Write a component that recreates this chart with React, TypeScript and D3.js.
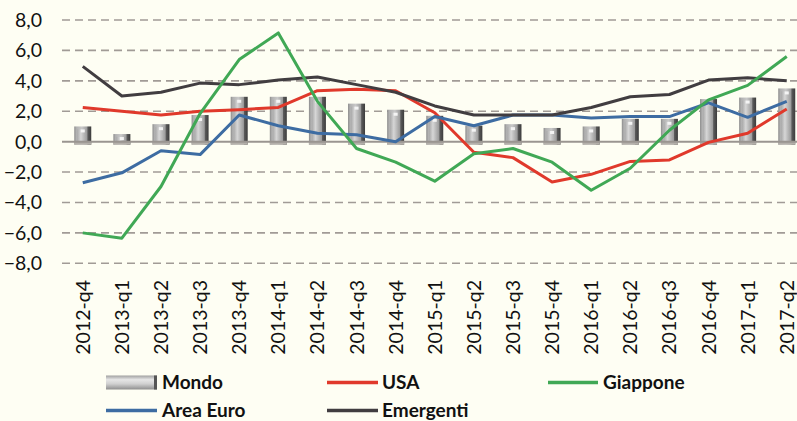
import React from "react";
import * as d3 from "d3";

const categories = [
  "2012-q4", "2013-q1", "2013-q2", "2013-q3", "2013-q4", "2014-q1", "2014-q2", "2014-q3", "2014-q4",
  "2015-q1", "2015-q2", "2015-q3", "2015-q4", "2016-q1", "2016-q2", "2016-q3", "2016-q4", "2017-q1", "2017-q2",
];
const mondo = [1.0, 0.5, 1.15, 1.75, 2.95, 2.95, 2.95, 2.5, 2.1, 1.7, 1.05, 1.15, 0.9, 1.0, 1.5, 1.5, 2.8, 2.9, 3.5];
const usa = [2.25, 2.0, 1.75, 2.0, 2.1, 2.25, 3.35, 3.45, 3.35, 1.9, -0.7, -1.05, -2.65, -2.15, -1.3, -1.2, -0.05, 0.55, 2.15];
const giappone = [-6.0, -6.35, -2.95, 1.85, 5.4, 7.15, 2.65, -0.45, -1.35, -2.6, -0.8, -0.45, -1.35, -3.2, -1.75, 0.75, 2.75, 3.7, 5.6];
const areaEuro = [-2.7, -2.05, -0.6, -0.85, 1.75, 1.05, 0.55, 0.45, 0.0, 1.65, 1.05, 1.75, 1.75, 1.55, 1.65, 1.65, 2.55, 1.6, 2.65];
const emergenti = [4.95, 3.0, 3.25, 3.85, 3.75, 4.05, 4.25, 3.75, 3.25, 2.35, 1.75, 1.75, 1.75, 2.25, 2.95, 3.1, 4.05, 4.2, 4.0];
const yTicks = [8, 6, 4, 2, 0, -2, -4, -6, -8];

const lineSeries = [
  { name: "USA", values: usa, color: "#e0392b" },
  { name: "Area Euro", values: areaEuro, color: "#3d6ca2" },
  { name: "Emergenti", values: emergenti, color: "#413d40" },
  { name: "Giappone", values: giappone, color: "#40a855" },
];

const W = 797;
const H = 421;
const FONT = "Lato, 'Open Sans', sans-serif";

export default function App() {
  const x = d3.scaleBand<string>().domain(categories).range([63.2, 806.3]).padding(0);
  const y = d3.scaleLinear().domain([-8, 8]).range([263.3, 20]);
  const cx = (c: string) => (x(c) as number) + x.bandwidth() / 2;
  const line = d3
    .line<number>()
    .x((_, i) => cx(categories[i]))
    .y((d) => y(d));
  const barW = 17;
  const fmt = (v: number) => d3.format(".1f")(v).replace(".", ",");

  return (
    <svg
      width={W}
      height={H}
      style={{ position: "absolute", left: 0, top: 0, display: "block" }}
      fontFamily={FONT}
    >
      <defs>
        <linearGradient id="barOuter" x1="0" x2="1" y1="0" y2="0">
          <stop offset="0" stopColor="#8c8c8c" />
          <stop offset="0.12" stopColor="#b0b0b0" />
          <stop offset="0.45" stopColor="#c9c9c9" />
          <stop offset="0.75" stopColor="#9c9c9c" />
          <stop offset="0.8" stopColor="#5a5a5a" />
          <stop offset="1" stopColor="#3c3c3c" />
        </linearGradient>
        <linearGradient id="barInner" x1="0" x2="1" y1="0" y2="0">
          <stop offset="0" stopColor="#a9a9a9" />
          <stop offset="0.4" stopColor="#d6d6d6" />
          <stop offset="1" stopColor="#a2a2a2" />
        </linearGradient>
        <linearGradient id="legSw" x1="0" x2="0" y1="0" y2="1">
          <stop offset="0" stopColor="#a0a0a0" />
          <stop offset="0.3" stopColor="#e6e6e6" />
          <stop offset="0.6" stopColor="#d0d0d0" />
          <stop offset="1" stopColor="#8e8e8e" />
        </linearGradient>
      </defs>
      <rect x={0} y={0} width={W} height={H} fill="#fefef3" />

      {yTicks
        .filter((t) => t !== 0)
        .map((t) => (
          <line
            key={t}
            x1={62}
            x2={W}
            y1={y(t)}
            y2={y(t)}
            stroke="#a19b96"
            strokeWidth={1.6}
            strokeDasharray="8,5"
          />
        ))}

      {mondo.map((v, i) => {
        const c = cx(categories[i]);
        const top = y(v);
        const bottom = y(0) + 3;
        const h = bottom - top;
        return (
          <g key={i}>
            <rect x={c - barW / 2} y={top} width={barW} height={h} fill="url(#barOuter)" />
            <rect x={c - barW / 2 + 3} y={top + 3} width={barW - 8} height={Math.max(0, h - 6)} fill="url(#barInner)" />
            <rect x={c - 2} y={top + 3} width={4} height={Math.min(3, Math.max(0, h - 6))} fill="#f4f4f4" />
            <rect x={c - barW / 2} y={y(0)} width={barW} height={3} fill="#b4b0aa" />
          </g>
        );
      })}

      <line x1={62} x2={W} y1={y(0)} y2={y(0)} stroke="#9a9590" strokeWidth={2} />

      {lineSeries.map((s) => (
        <path key={s.name} d={line(s.values) || ""} fill="none" stroke={s.color} strokeWidth={3} strokeLinejoin="round" />
      ))}

      {yTicks.map((t) => (
        <text key={t} x={42} y={y(t)} dy="0.36em" textAnchor="end" fontSize={19.5} fill="#111">
          {fmt(t)}
        </text>
      ))}

      {categories.map((c) => (
        <text
          key={c}
          transform={`translate(${cx(c)},280) rotate(-90)`}
          textAnchor="end"
          dy="0.36em"
          fontSize={19.5}
          fill="#111"
        >
          {c}
        </text>
      ))}

      <g fontWeight="bold" fontSize={19} fill="#111">
        <rect x={106} y={375.5} width={51} height={14} fill="url(#legSw)" />
        <rect x={154} y={375.5} width={3} height={14} fill="#555" />
        <text x={162} y={382.5} dy="0.36em">Mondo</text>

        <line x1={327} x2={378} y1={382.5} y2={382.5} stroke="#e0392b" strokeWidth={3.5} />
        <text x={382} y={382.5} dy="0.36em">USA</text>

        <line x1={548} x2={598} y1={382.5} y2={382.5} stroke="#40a855" strokeWidth={3.5} />
        <text x={603} y={382.5} dy="0.36em">Giappone</text>

        <line x1={106} x2={157} y1={410.5} y2={410.5} stroke="#3d6ca2" strokeWidth={3.5} />
        <text x={162} y={410.5} dy="0.34em">Area Euro</text>

        <line x1={327} x2={378} y1={410.5} y2={410.5} stroke="#413d40" strokeWidth={3.5} />
        <text x={382} y={410.5} dy="0.34em">Emergenti</text>
      </g>
    </svg>
  );
}
